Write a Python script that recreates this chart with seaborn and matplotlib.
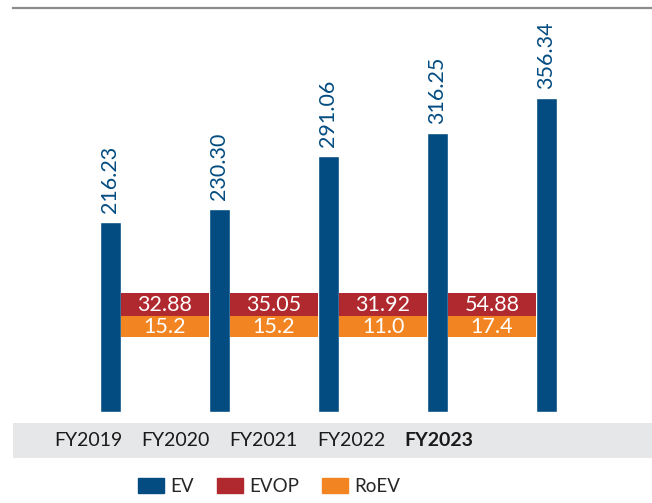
import matplotlib
matplotlib.use("Agg")
import matplotlib.pyplot as plt
import seaborn as sns
import pandas as pd
import numpy as np
from matplotlib.patches import Patch

years = ["FY2019", "FY2020", "FY2021", "FY2022", "FY2023"]
ev = [216.23, 230.30, 291.06, 316.25, 356.34]
evop = [32.88, 35.05, 31.92, 54.88]
roev = [15.2, 15.2, 11.0, 17.4]
ev_labels = ["216.23", "230.30", "291.06", "316.25", "356.34"]
evop_labels = ["32.88", "35.05", "31.92", "54.88"]
roev_labels = ["15.2", "15.2", "11.0", "17.4"]

BLUE = "#034C81"
RED = "#B0292F"
ORANGE = "#F28522"
GREY = "#E6E7E8"

sns.set_theme(style="white")
plt.rcParams["font.family"] = ["Lato", "DejaVu Sans"]

df = pd.DataFrame({"year": years, "ev": ev})

fig = plt.figure(figsize=(6.52, 5.03), dpi=100)
ax = fig.add_axes([13 / 652, 1 - 412.3 / 503, 639 / 652, 404.3 / 503])

bw = 21 / 109
sns.barplot(data=df, x="year", y="ev", order=years, color=BLUE,
            width=bw, saturation=1, ax=ax)

# EV value labels above the bars
for i, (v, lab) in enumerate(zip(ev, ev_labels)):
    ax.annotate(lab, (i, v), xytext=(0, 6.5), textcoords="offset points",
                rotation=90, ha="center", va="bottom", color=BLUE, fontsize=15.5)

# EVOP / RoEV bands between bars
mid = np.arange(len(evop)) + 0.5
band_w = 1 - bw
ax.bar(mid, 25.5, bottom=109.5, width=band_w, color=RED, linewidth=0)
ax.bar(mid, 24.5, bottom=85, width=band_w, color=ORANGE, linewidth=0)
for x, a, b in zip(mid, evop_labels, roev_labels):
    ax.text(x, 122.2, a, ha="center", va="center", color="white", fontsize=15.5)
    ax.text(x, 97.2, b, ha="center", va="center", color="white", fontsize=15.5)

ax.set_xlim(-0.8945, 4.968)
ax.set_ylim(0, 458.4)
ax.set_xticks([])
ax.set_yticks([])
ax.set_xlabel("")
ax.set_ylabel("")
for s in ["left", "right", "bottom"]:
    ax.spines[s].set_visible(False)
ax.spines["top"].set_color("#8C8C8C")
ax.spines["top"].set_linewidth(1.6)

# grey category strip
bx = fig.add_axes([13 / 652, 1 - 458 / 503, 639 / 652, 35 / 503])
bx.set_facecolor(GREY)
bx.set_xlim(-0.855, 6.43)
bx.set_ylim(0, 1)
for i, y in enumerate(years):
    bx.text(i, 0.5, y, ha="center", va="center", color="#1A1A1A", fontsize=14,
            fontweight="bold" if i == len(years) - 1 else "normal")
bx.set_xticks([])
bx.set_yticks([])
for s in bx.spines.values():
    s.set_visible(False)

handles = [Patch(color=BLUE, label="EV"), Patch(color=RED, label="EVOP"),
           Patch(color=ORANGE, label="RoEV")]
fig.legend(handles=handles, loc="center", bbox_to_anchor=(0.4126, 0.032),
           ncol=3, frameon=False, fontsize=13.5, handlelength=1.4,
           handleheight=0.86, handletextpad=0.33, columnspacing=1.2)

fig.savefig("out.png", dpi=100)
